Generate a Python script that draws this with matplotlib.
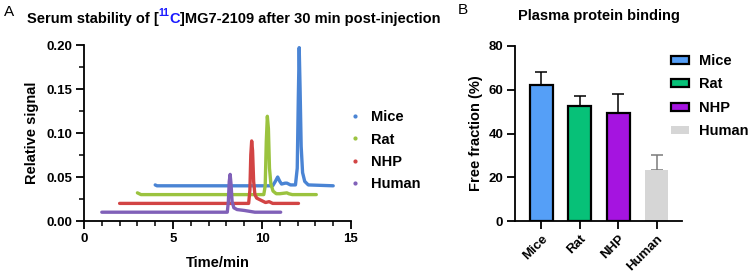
import matplotlib
matplotlib.use("Agg")
import matplotlib.pyplot as plt
from matplotlib.lines import Line2D
from matplotlib.patches import Patch

plt.rcParams['font.family'] = ['Liberation Sans', 'DejaVu Sans']
plt.rcParams['font.weight'] = 'bold'

# ---------------- data ----------------
species = ["Mice", "Rat", "NHP", "Human"]

mice_t = [4.0, 4.1, 5.0, 10.6, 10.75, 10.88, 11.0, 11.1, 11.3, 11.4, 11.6, 11.88, 11.98, 12.04, 12.09, 12.14, 12.2, 12.28, 12.4, 12.6, 14.0]
mice_y = [0.041, 0.040, 0.040, 0.040, 0.045, 0.050, 0.045, 0.042, 0.043, 0.043, 0.041, 0.041, 0.060, 0.140, 0.197, 0.150, 0.085, 0.055, 0.045, 0.041, 0.040]

rat_t = [3.0, 3.2, 10.1, 10.18, 10.24, 10.3, 10.36, 10.42, 10.5, 10.62, 10.8, 11.0, 11.4, 11.5, 11.7, 13.05]
rat_y = [0.032, 0.030, 0.030, 0.040, 0.090, 0.119, 0.105, 0.060, 0.042, 0.034, 0.031, 0.031, 0.032, 0.031, 0.030, 0.030]

nhp_t = [2.0, 9.25, 9.32, 9.37, 9.42, 9.47, 9.53, 9.6, 9.7, 9.9, 10.2, 10.4, 10.6, 12.05]
nhp_y = [0.020, 0.020, 0.035, 0.075, 0.091, 0.080, 0.045, 0.030, 0.026, 0.024, 0.021, 0.022, 0.020, 0.020]

human_t = [1.0, 8.05, 8.11, 8.16, 8.21, 8.26, 8.32, 8.42, 8.6, 9.0, 9.3, 9.6, 11.05]
human_y = [0.010, 0.010, 0.022, 0.045, 0.053, 0.042, 0.022, 0.015, 0.013, 0.012, 0.011, 0.010, 0.010]

free_fraction = [62.0, 52.5, 49.5, 23.5]
free_fraction_err = [6.0, 4.5, 8.5, 6.5]

# ---------------- style ----------------
line_colors = ["#4a84d4", "#9bc33f", "#d24444", "#8060b8"]
bar_colors = ["#559ff7", "#07c178", "#a514e0", "#d6d6d6"]
bar_edges = ["black", "black", "black", "none"]
err_colors = ["black", "black", "black", "#7a7a7a"]

W, H = 753, 279
fig = plt.figure(figsize=(W / 100, H / 100), dpi=100)

def fx(px):
    return px / W

def fy(py):
    return 1 - py / H

TICK = 9.5
LAB = 10.5

# ---------------- panel A ----------------
axA = fig.add_axes([fx(84), fy(221), fx(351) - fx(84), fy(45) - fy(221)])
series = [(mice_t, mice_y), (rat_t, rat_y), (nhp_t, nhp_y), (human_t, human_y)]
for (t, y), c in zip(series, line_colors):
    axA.plot(t, y, color=c, lw=2.4, solid_capstyle='round', solid_joinstyle='round')
axA.set_xlim(0, 15)
axA.set_ylim(0, 0.2)
axA.set_xticks([0, 5, 10, 15])
axA.set_xticks(range(0, 16), minor=True)
axA.set_yticks([0, 0.05, 0.10, 0.15, 0.20])
axA.set_yticks([0.025, 0.075, 0.125, 0.175], minor=True)
axA.set_yticklabels(["0.00", "0.05", "0.10", "0.15", "0.20"])
axA.set_xlabel("Time/min", fontsize=LAB, fontweight='bold', labelpad=8)
axA.set_ylabel("Relative signal", fontsize=LAB, fontweight='bold', labelpad=5)
for s in ["top", "right"]:
    axA.spines[s].set_visible(False)
for s in ["left", "bottom"]:
    axA.spines[s].set_linewidth(1.3)
axA.tick_params(which='major', length=6, width=1.3, labelsize=TICK, direction='out', pad=2.5)
axA.tick_params(which='minor', length=3.5, width=1.1)
for lab in axA.get_xticklabels() + axA.get_yticklabels():
    lab.set_fontweight('bold')

handlesA = [Line2D([], [], ls='none', marker='o', ms=2, color=c) for c in line_colors]
fig.legend(handlesA, species, loc='upper left', bbox_to_anchor=(fx(336), fy(97)),
           frameon=False, handlelength=0.8, handletextpad=0.7,
           labelspacing=0.58, prop={'weight': 'bold', 'size': LAB})

# title A with blue "11C"
fig.text(fx(4), fy(12), "A", fontsize=11, fontweight='normal', va='center')
fig.canvas.draw()
renderer = fig.canvas.get_renderer()
parts = [("Serum stability of [", "black", False), ("11", "#1a1aff", True),
         ("C", "#1a1aff", False), ("]MG7-2109 after 30 min post-injection", "black", False)]
xcur = 27
ybase = 23
for txt, col, sup in parts:
    if sup:
        t = fig.text(fx(xcur), fy(ybase - 7), txt, fontsize=7.5, fontweight='bold', color=col, va='baseline')
    else:
        t = fig.text(fx(xcur), fy(ybase), txt, fontsize=LAB, fontweight='bold', color=col, va='baseline')
    bb = t.get_window_extent(renderer)
    xcur += bb.width

# ---------------- panel B ----------------
axB = fig.add_axes([fx(515), fy(221), fx(682) - fx(515), fy(46) - fy(221)])
xpos = list(range(len(species)))
for i in xpos:
    axB.bar(i, free_fraction[i], width=0.6, color=bar_colors[i], edgecolor=bar_edges[i],
            linewidth=1.6 if bar_edges[i] != 'none' else 0, zorder=2)
    axB.errorbar(i, free_fraction[i], yerr=[[0], [free_fraction_err[i]]], fmt='none',
                 ecolor=err_colors[i], elinewidth=1.1, capsize=4, capthick=1.1, zorder=1)
axB.set_xlim(-0.68, 3.66)
axB.set_ylim(0, 80)
axB.set_yticks([0, 20, 40, 60, 80])
axB.set_xticks(xpos)
axB.set_xticklabels(species, rotation=45, ha='right', rotation_mode='anchor',
                    fontsize=TICK, fontweight='bold')
axB.set_ylabel("Free fraction (%)", fontsize=LAB, fontweight='bold', labelpad=4)
for s in ["top", "right"]:
    axB.spines[s].set_visible(False)
for s in ["left", "bottom"]:
    axB.spines[s].set_linewidth(1.3)
axB.tick_params(which='major', length=6, width=1.3, labelsize=TICK, direction='out', pad=2.5)
for lab in axB.get_yticklabels():
    lab.set_fontweight('bold')
axB.set_title("Plasma protein binding", fontsize=LAB, fontweight='bold', pad=19)

handlesB = [Patch(facecolor=bar_colors[i], edgecolor=bar_edges[i] if bar_edges[i] != 'none' else bar_colors[i],
                  linewidth=1.6 if bar_edges[i] != 'none' else 0) for i in xpos]
fig.legend(handlesB, species, loc='upper left', bbox_to_anchor=(fx(658), fy(41)),
           frameon=False, handlelength=1.25, handleheight=0.45, handletextpad=0.68,
           labelspacing=0.64, prop={'weight': 'bold', 'size': LAB})
fig.text(fx(458), fy(10), "B", fontsize=11, fontweight='normal', va='center')

fig.savefig("out.png", dpi=100)
